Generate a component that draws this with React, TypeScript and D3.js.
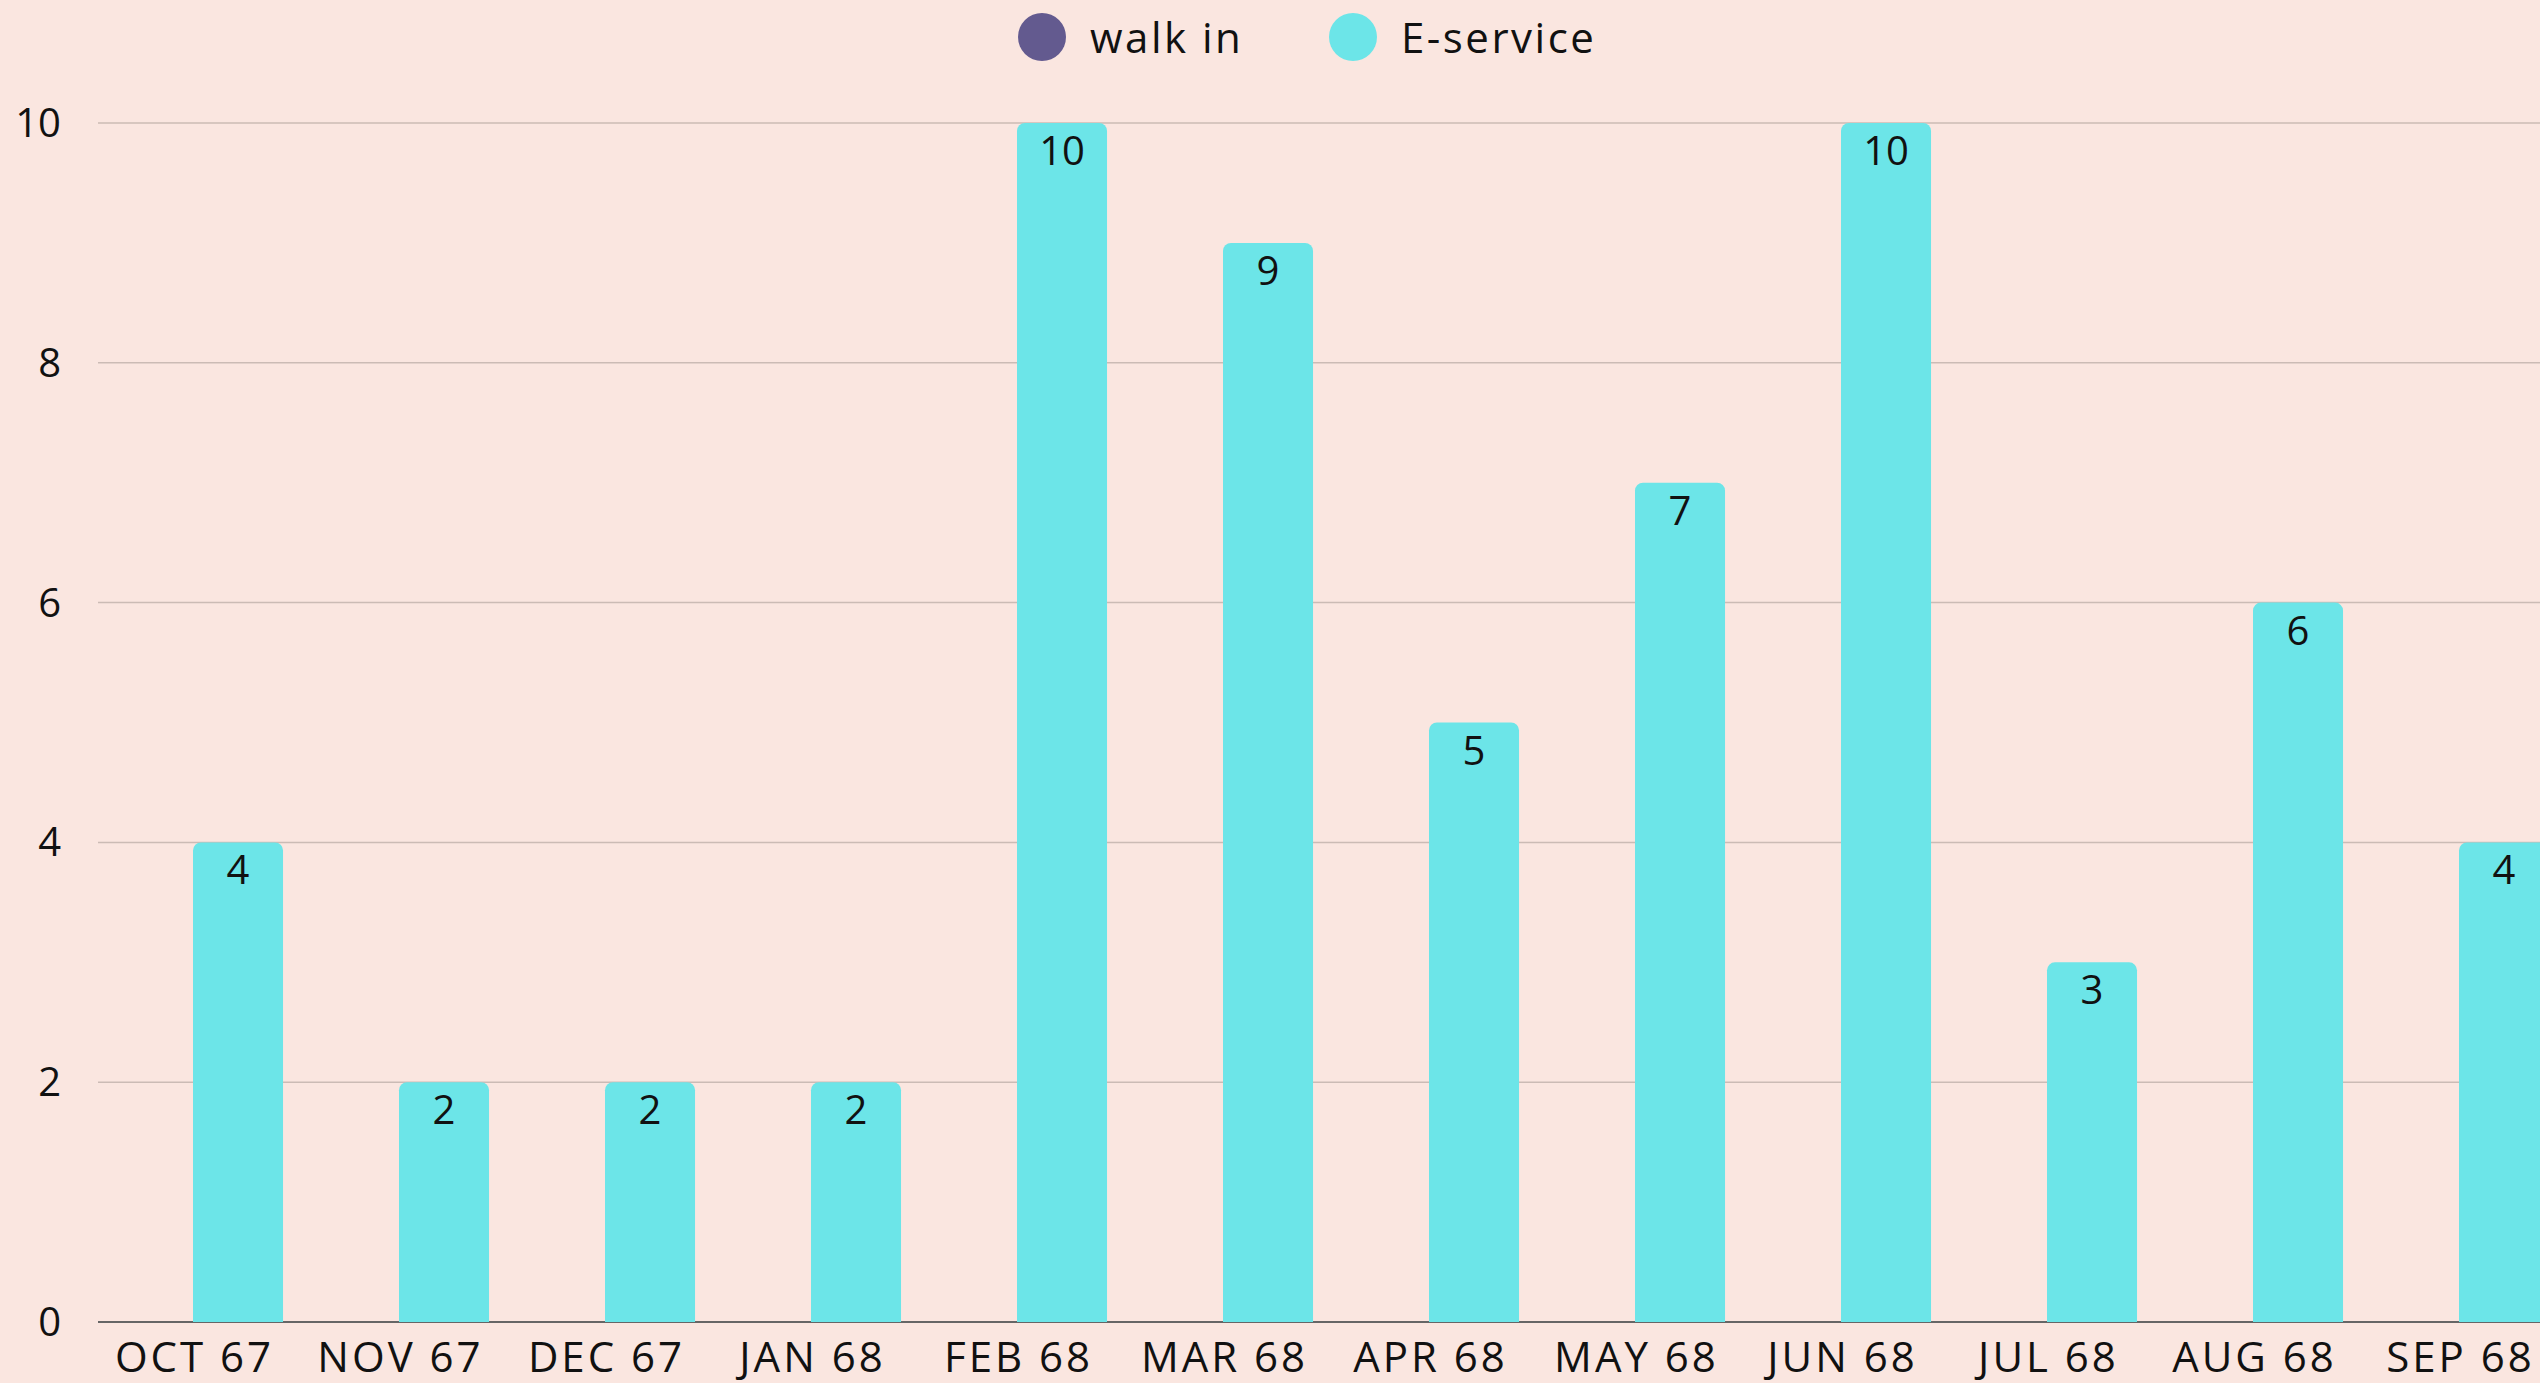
import React, { useEffect } from "react";
import * as d3 from "d3";

const WIDTH = 2540;
const HEIGHT = 1383;
const FONT = "'Open Sans', 'Noto Sans', sans-serif";

const months = [
  "OCT 67", "NOV 67", "DEC 67", "JAN 68", "FEB 68", "MAR 68",
  "APR 68", "MAY 68", "JUN 68", "JUL 68", "AUG 68", "SEP 68",
];
const seriesNames = ["walk in", "E-service"];
const walkIn = [0, 0, 0, 0, 0, 0, 0, 0, 0, 0, 0, 0];
const eService = [4, 2, 2, 2, 10, 9, 5, 7, 10, 3, 6, 4];
const yTicks = [0, 2, 4, 6, 8, 10];
const colors = ["#635a8f", "#6ce5e8"];

const topRoundedBar = (x: number, y: number, w: number, h: number, r: number) => {
  if (h <= 0) return "";
  const rr = Math.min(r, h, w / 2);
  const p = d3.path();
  p.moveTo(x, y + h);
  p.lineTo(x, y + rr);
  p.arcTo(x, y, x + rr, y, rr);
  p.lineTo(x + w - rr, y);
  p.arcTo(x + w, y, x + w, y + rr, rr);
  p.lineTo(x + w, y + h);
  p.closePath();
  return p.toString();
};

const App = () => {
  useEffect(() => {
    document.body.style.margin = "0";
  }, []);

  const plotLeft = 98;
  const step = 206;
  const bandStart = 90;

  const x = d3
    .scaleBand<string>()
    .domain(months)
    .range([bandStart, bandStart + step * months.length])
    .padding(0);
  const inner = d3
    .scaleBand<string>()
    .domain(seriesNames)
    .range([0, x.bandwidth()])
    .paddingInner(0)
    .paddingOuter(0.144);
  const y = d3.scaleLinear().domain([0, 10]).range([1322, 123]);

  const data = [walkIn, eService];

  return (
    <svg width={WIDTH} height={HEIGHT} style={{ display: "block", background: "#fae6e0" }}>
      <rect width={WIDTH} height={HEIGHT} fill="#fae6e0" />
      {/* legend */}
      <g fontFamily={FONT} fontSize={42} fill="#111" letterSpacing={2.5}>
        <circle cx={1042} cy={37} r={24} fill={colors[0]} />
        <text x={1090} y={53}>{seriesNames[0]}</text>
        <circle cx={1353} cy={37} r={24} fill={colors[1]} />
        <text x={1401} y={53}>{seriesNames[1]}</text>
      </g>
      {/* grid */}
      {yTicks.map((t) => (
        <g key={t}>
          <line
            x1={plotLeft}
            x2={WIDTH}
            y1={y(t)}
            y2={y(t)}
            stroke={t === 0 ? "#666" : "#cbbbb5"}
            strokeWidth={t === 0 ? 2 : 1.5}
          />
          <text
            x={61}
            y={y(t)}
            dy="0.35em"
            textAnchor="end"
            fontFamily={FONT}
            fontSize={40}
            fill="#111"
          >
            {t}
          </text>
        </g>
      ))}
      {/* bars */}
      {months.map((m, i) => (
        <g key={m} transform={`translate(${x(m)},0)`}>
          {seriesNames.map((s, k) => {
            const v = data[k][i];
            const bx = inner(s) as number;
            const bw = inner.bandwidth();
            return (
              <g key={s}>
                <path d={topRoundedBar(bx, y(v), bw, y(0) - y(v), 8)} fill={colors[k]} />
                {v > 0 && (
                  <text
                    x={bx + bw / 2}
                    y={y(v) + 42}
                    textAnchor="middle"
                    fontFamily={FONT}
                    fontSize={40}
                    fill="#111"
                  >
                    {v}
                  </text>
                )}
              </g>
            );
          })}
          <text
            x={x.bandwidth() / 2 + 1.5}
            y={1372}
            textAnchor="middle"
            fontFamily={FONT}
            fontSize={42}
            letterSpacing={3}
            fill="#111"
          >
            {m}
          </text>
        </g>
      ))}
    </svg>
  );
};

export default App;
